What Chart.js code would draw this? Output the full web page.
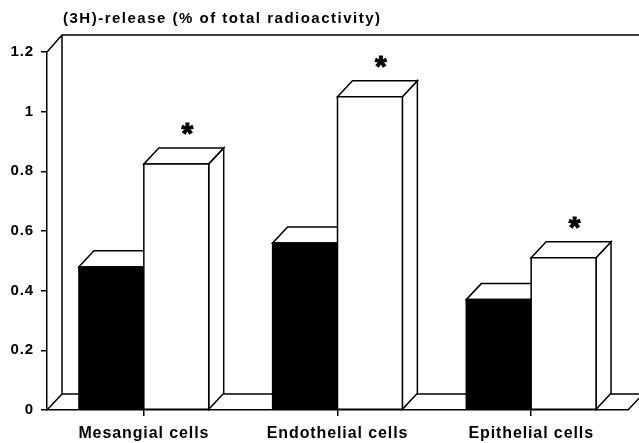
<!DOCTYPE html>
<html>
<head>
<meta charset="utf-8">
<script src="https://cdn.jsdelivr.net/npm/chart.js@4"></script>
<style>
html,body{margin:0;padding:0;background:#fff;}
#wrap{width:639px;height:443px;}
</style>
</head>
<body>
<div id="wrap"><canvas id="c" width="639" height="443"></canvas></div>
<script>
const categories = ['Mesangial cells', 'Endothelial cells', 'Epithelial cells'];
const controlValues = [0.48, 0.56, 0.37];
const treatedValues = [0.825, 1.05, 0.51];
const treatedSignificant = [true, true, true];
const yTickLabels = ['0', '0.2', '0.4', '0.6', '0.8', '1', '1.2'];
const yTitle = '(3H)-release (% of total radioactivity)';

const DX = 15, DY = 16;
const FONT = '"Liberation Sans", Arial, sans-serif';

const threeD = {
  id: 'threeD',
  beforeDraw(chart) {
    chart.ctx.letterSpacing = '0.9px';
  },
  beforeDatasetsDraw(chart) {
    const ctx = chart.ctx;
    const ca = chart.chartArea;
    const W = chart.width;
    ctx.save();
    ctx.strokeStyle = '#000';
    ctx.lineWidth = 1.5;
    ctx.lineJoin = 'miter';
    // back wall and floor
    ctx.beginPath();
    ctx.moveTo(ca.left, ca.top);
    ctx.lineTo(ca.left + DX, ca.top - DY - 1);
    ctx.lineTo(W, ca.top - DY - 1);
    ctx.moveTo(ca.left + DX, ca.top - DY - 1);
    ctx.lineTo(ca.left + DX, ca.bottom - DY);
    ctx.lineTo(ca.right + DX, ca.bottom - DY);
    ctx.moveTo(ca.left, ca.bottom);
    ctx.lineTo(ca.left + DX, ca.bottom - DY);
    ctx.moveTo(ca.right, ca.bottom);
    ctx.lineTo(ca.right + DX, ca.bottom - DY);
    ctx.stroke();

    const m0 = chart.getDatasetMeta(0).data;
    const m1 = chart.getDatasetMeta(1).data;
    const colors = ['#000', '#fff'];
    for (let i = 0; i < categories.length; i++) {
      [m0[i], m1[i]].forEach((el, k) => {
        const p = el.getProps(['x', 'y', 'base', 'width'], true);
        const x0 = p.x - p.width / 2, x1 = p.x + p.width / 2;
        const y = p.y, b = p.base;
        // side face
        ctx.beginPath();
        ctx.moveTo(x1, y); ctx.lineTo(x1 + DX, y - DY); ctx.lineTo(x1 + DX, b - DY); ctx.lineTo(x1, b);
        ctx.closePath();
        ctx.fillStyle = '#fff'; ctx.fill(); ctx.stroke();
        // top face
        ctx.beginPath();
        ctx.moveTo(x0, y); ctx.lineTo(x1, y); ctx.lineTo(x1 + DX, y - DY); ctx.lineTo(x0 + DX, y - DY);
        ctx.closePath();
        ctx.fillStyle = '#fff'; ctx.fill(); ctx.stroke();
        // front face
        ctx.beginPath();
        ctx.rect(x0, y, x1 - x0, b - y);
        ctx.fillStyle = colors[k]; ctx.fill(); ctx.stroke();
        if (k === 1 && treatedSignificant[i]) {
          ctx.save();
          ctx.fillStyle = '#000';
          ctx.strokeStyle = '#000';
          ctx.lineWidth = 1;
          ctx.font = 'bold 30px ' + FONT;
          ctx.textAlign = 'center';
          ctx.textBaseline = 'alphabetic';
          ctx.letterSpacing = '0px';
          ctx.fillText('*', p.x + 11, y - DY - 5);
          ctx.strokeText('*', p.x + 11, y - DY - 5);
          ctx.restore();
        }
      });
    }
    // title
    ctx.fillStyle = '#000';
    ctx.font = 'bold 15px ' + FONT;
    ctx.letterSpacing = '1.5px';
    ctx.textAlign = 'left';
    ctx.textBaseline = 'alphabetic';
    ctx.fillText(yTitle, ca.left + DX + 1, 23);
    ctx.restore();
    return false;
  }
};

new Chart(document.getElementById('c'), {
  type: 'bar',
  data: {
    labels: categories,
    datasets: [
      { label: 'Control', data: controlValues, backgroundColor: '#000', categoryPercentage: 0.67, barPercentage: 1 },
      { label: 'Treated', data: treatedValues, backgroundColor: '#fff', categoryPercentage: 0.67, barPercentage: 1 }
    ]
  },
  options: {
    responsive: false,
    animation: false,
    events: [],
    layout: { padding: { top: 52, right: 11, left: 0, bottom: 0 } },
    plugins: { legend: { display: false }, tooltip: { enabled: false } },
    scales: {
      x: {
        offset: true,
        grid: { display: true, drawOnChartArea: false, offset: false, tickLength: 6, color: '#000', lineWidth: 1.5 },
        border: { color: '#000', width: 1.5 },
        ticks: { color: '#000', font: { family: FONT, size: 16, weight: 'bold' }, padding: 8, maxRotation: 0 },
        afterFit(s) { s.height = 33; }
      },
      y: {
        min: 0, max: 1.2,
        ticks: {
          stepSize: 0.2, color: '#000', padding: 7,
          font: { family: FONT, size: 15, weight: 'bold' },
          callback: (v, i) => yTickLabels[i]
        },
        grid: { display: true, drawOnChartArea: false, tickLength: 6, color: '#000', lineWidth: 1.5 },
        border: { color: '#000', width: 1.5 },
        afterFit(s) { s.width = 47; }
      }
    }
  },
  plugins: [threeD]
});
</script>
</body>
</html>
